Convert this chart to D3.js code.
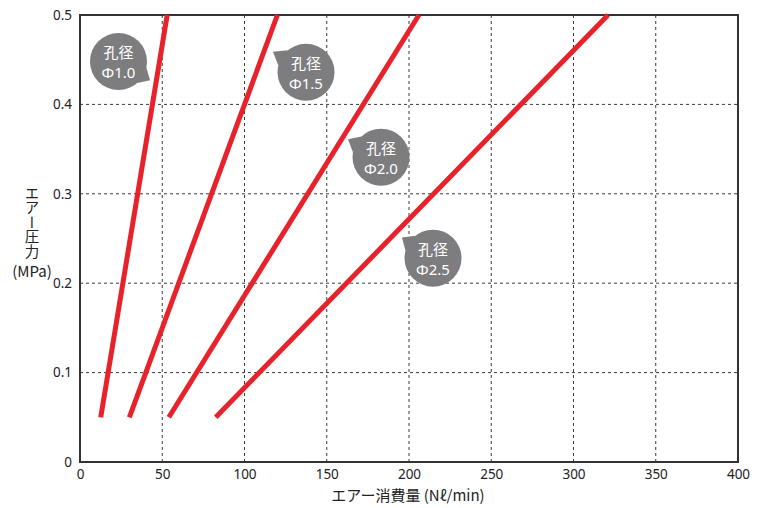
<!DOCTYPE html>
<html>
<head>
<meta charset="utf-8">
<script src="https://cdn.jsdelivr.net/npm/d3@7"></script>
<style>
  html, body { margin: 0; padding: 0; background: #fff; }
  svg text { font-family: "Noto Sans", "Noto Sans CJK JP", sans-serif; }
</style>
</head>
<body>
<svg id="chart" width="766" height="508"></svg>
<script>
// Air consumption (Nℓ/min) vs. air pressure (MPa) for each orifice diameter
const diameters = ["Φ1.0", "Φ1.5", "Φ2.0", "Φ2.5"];
const pressure = [0.05, 0.5];
const flowAt = {
  "Φ1.0": [12.6, 53],
  "Φ1.5": [30, 120],
  "Φ2.0": [54, 206],
  "Φ2.5": [82.5, 321]
};
const xTicks = [0, 50, 100, 150, 200, 250, 300, 350, 400];
const yTicks = [0, 0.1, 0.2, 0.3, 0.4, 0.5];

// Callout bubbles: centre and tail tip in data units
const callouts = [
  { name: "Φ1.0", cx: 23.4, cy: 0.448, tx: 42.6, ty: 0.427 },
  { name: "Φ1.5", cx: 137.4, cy: 0.436, tx: 117.3, ty: 0.459 },
  { name: "Φ2.0", cx: 183, cy: 0.341, tx: 162.9, ty: 0.361 },
  { name: "Φ2.5", cx: 214.6, cy: 0.228, tx: 195.7, ty: 0.251 }
];

const svg = d3.select("#chart");
const plotL = 80, plotR = 738, plotT = 15, plotB = 462;

const x = d3.scaleLinear().domain([0, 400]).range([plotL, plotR]);
const y = d3.scaleLinear().domain([0, 0.5]).range([plotB, plotT]);

// dashed grid
const grid = svg.append("g");
grid.selectAll("line.vx").data(xTicks.slice(1, -1)).join("line")
  .attr("x1", d => x(d)).attr("x2", d => x(d))
  .attr("y1", plotT).attr("y2", plotB)
  .attr("stroke", "#3a3a3a").attr("stroke-width", 1)
  .attr("stroke-dasharray", "3,3");
grid.selectAll("line.hy").data(yTicks.slice(1, -1)).join("line")
  .attr("y1", d => y(d)).attr("y2", d => y(d))
  .attr("x1", plotL).attr("x2", plotR)
  .attr("stroke", "#3a3a3a").attr("stroke-width", 1)
  .attr("stroke-dasharray", "3,3");

// axes (labels only, frame drawn separately)
const xAxis = svg.append("g").attr("transform", `translate(0,${plotB})`)
  .call(d3.axisBottom(x).tickValues(xTicks).tickSize(0).tickPadding(7).tickFormat(d3.format("d")));
const yAxis = svg.append("g").attr("transform", `translate(${plotL},0)`)
  .call(d3.axisLeft(y).tickValues(yTicks).tickSize(0).tickPadding(8)
    .tickFormat(d => d === 0 ? "0" : d3.format(".1f")(d)));
[xAxis, yAxis].forEach(a => {
  a.select(".domain").remove();
  a.selectAll("text").attr("font-size", 13.5).attr("fill", "#222")
    .style("font-family", "'Noto Sans', sans-serif");
});

// frame
svg.append("rect")
  .attr("x", plotL).attr("y", plotT)
  .attr("width", plotR - plotL).attr("height", plotB - plotT)
  .attr("fill", "none").attr("stroke", "#333").attr("stroke-width", 2);

// characteristic lines
const line = d3.line().x(d => x(d[0])).y(d => y(d[1]));
svg.append("g").selectAll("path").data(diameters).join("path")
  .attr("d", k => line(flowAt[k].map((f, i) => [f, pressure[i]])))
  .attr("fill", "none").attr("stroke", "#e8222b").attr("stroke-width", 5)
  .attr("stroke-linecap", "butt");

// callout bubbles
const r = 28.5;
const bubble = svg.append("g").selectAll("g").data(callouts).join("g");
bubble.append("path")
  .attr("d", c => {
    const cx = x(c.cx), cy = y(c.cy), tx = x(c.tx), ty = y(c.ty);
    const a = Math.atan2(ty - cy, tx - cx), s = 0.32;
    const p1 = [cx + r * Math.cos(a - s), cy + r * Math.sin(a - s)];
    const p2 = [cx + r * Math.cos(a + s), cy + r * Math.sin(a + s)];
    return `M${p1}L${tx},${ty}L${p2}Z`;
  })
  .attr("fill", "#7d7d7f");
bubble.append("circle")
  .attr("cx", c => x(c.cx)).attr("cy", c => y(c.cy)).attr("r", r)
  .attr("fill", "#7d7d7f");
bubble.append("text")
  .attr("x", c => x(c.cx)).attr("y", c => y(c.cy) - 3)
  .attr("text-anchor", "middle").attr("fill", "#fff").attr("font-size", 15)
  .style("font-family", "'Noto Sans CJK JP', sans-serif")
  .text("孔径");
bubble.append("text")
  .attr("x", c => x(c.cx)).attr("y", c => y(c.cy) + 17)
  .attr("text-anchor", "middle").attr("fill", "#fff").attr("font-size", 15)
  .style("font-family", "'Noto Sans', sans-serif")
  .text(c => c.name);

// axis titles
svg.append("text")
  .attr("x", 408).attr("y", 501)
  .attr("text-anchor", "middle").attr("font-size", 15).attr("fill", "#222")
  .style("font-family", "'Noto Sans CJK JP', sans-serif")
  .text("エアー消費量 (Nℓ/min)");

svg.append("text")
  .attr("x", 32).attr("y", 186)
  .attr("font-size", 14.5).attr("fill", "#222")
  .style("font-family", "'Noto Sans CJK JP', sans-serif")
  .style("writing-mode", "vertical-rl")
  .style("text-orientation", "upright")
  .text("エアー圧力");
svg.append("text")
  .attr("x", 32).attr("y", 277)
  .attr("text-anchor", "middle").attr("font-size", 15).attr("fill", "#222")
  .style("font-family", "'Noto Sans CJK JP', sans-serif")
  .text("(MPa)");
</script>
</body>
</html>
